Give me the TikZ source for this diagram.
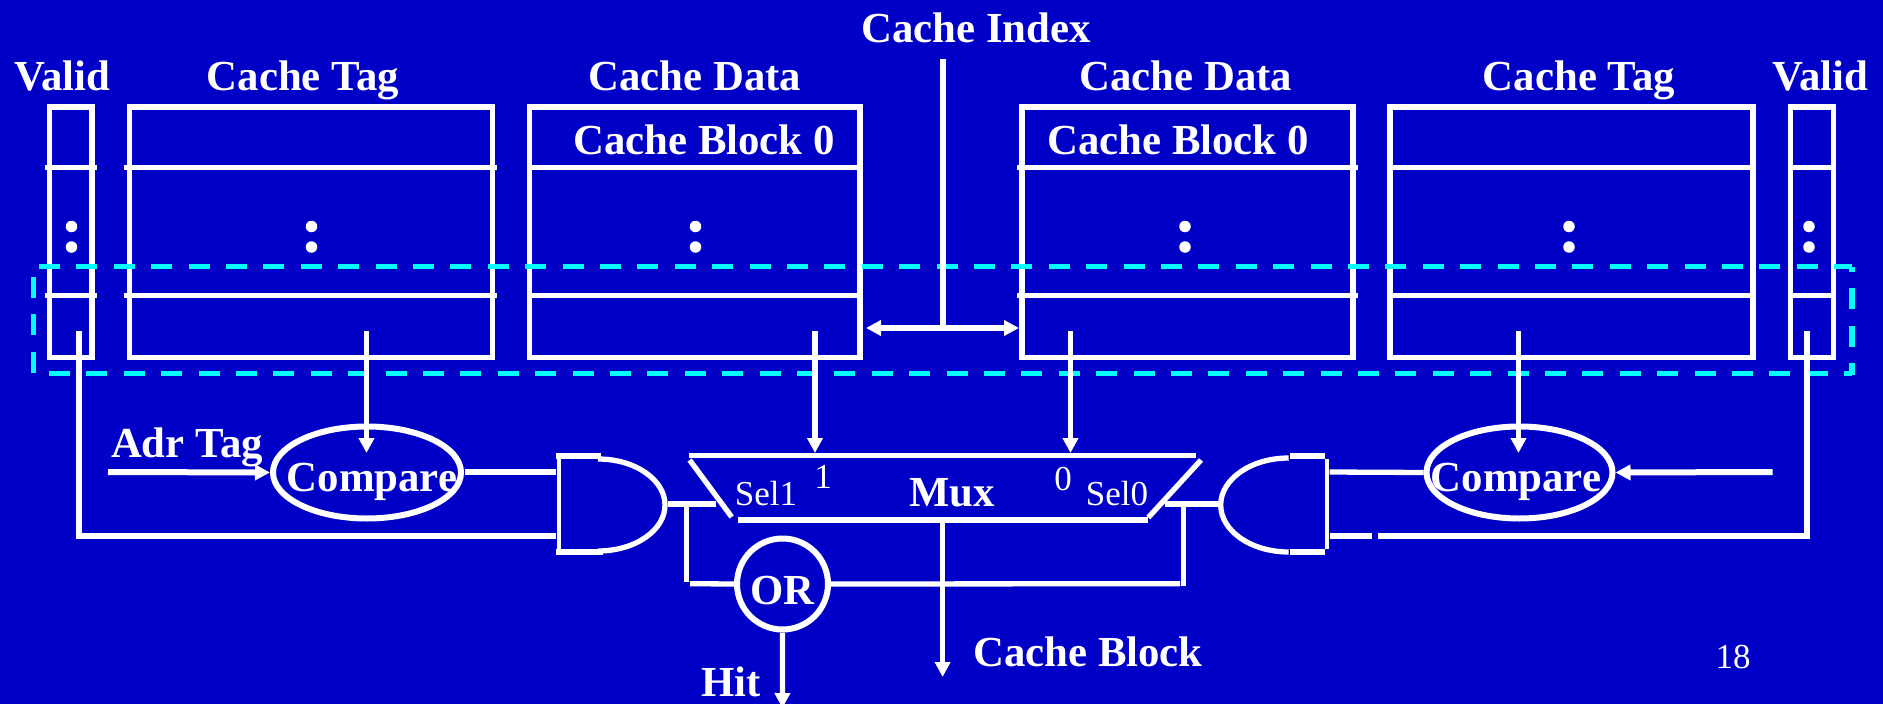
\documentclass[tikz,border=0pt]{standalone}
\usepackage{fontspec}
\setmainfont{Liberation Serif}
\usetikzlibrary{arrows.meta,shapes.geometric}
\definecolor{bgblue}{HTML}{0000C6}
\definecolor{dashcyan}{HTML}{00FFFF}
\tikzset{
  x=1pt,y=-1pt,
  wire/.style={draw=white,line width=5.3pt},
  thinwire/.style={draw=white,line width=4.6pt},
  tipped/.style={wire,-{Triangle[length=15pt,width=15pt]}},
  both/.style={wire,{Triangle[length=15pt,width=15pt]}-{Triangle[length=15pt,width=15pt]}},
  cell/.style={draw=white,line width=5.8pt},
  ring/.style={draw=white,line width=6pt,ellipse,inner sep=0pt},
  dashline/.style={draw=dashcyan,line width=5.3pt,dash pattern=on 21pt off 16.4pt},
  big/.style={text=white,font=\bfseries\fontsize{42.8}{43}\selectfont,inner sep=0pt,anchor=base},
  small/.style={text=white,font=\fontsize{35}{35}\selectfont,inner sep=0pt,anchor=base},
  dotmark/.style={circle,fill=white,inner sep=0pt,minimum size=11.5pt},
}
\begin{document}
\begin{tikzpicture}
\useasboundingbox (0,0) rectangle (1883,704);
\fill[bgblue] (0,0) rectangle (1883,704);
% labels
\node[big] (lidx) at (976,42) {Cache Index};
\node[big] (lv1) at (62,90) {Valid};
\node[big] (lt1) at (303,90) {Cache Tag};
\node[big] (ld1) at (695,90) {Cache Data};
\node[big] (ld2) at (1186,90) {Cache Data};
\node[big] (lt2) at (1579,90) {Cache Tag};
\node[big] (lv2) at (1820,90) {Valid};
\node[big] (lb1) at (704,154) {Cache Block 0};
\node[big] (lb2) at (1178,154) {Cache Block 0};
% boxes
\draw[cell] (49.5,107) rectangle (92,357.5);
\draw[cell] (129.5,107) rectangle (492.5,357.5);
\draw[cell] (529.5,107) rectangle (860,357.5);
\draw[cell] (1022,107) rectangle (1353,357.5);
\draw[cell] (1390,107) rectangle (1753,357.5);
\draw[cell] (1790.5,107) rectangle (1833.5,357.5);
% row lines
\foreach \yy in {167.7,295.7}{
  \draw[wire] (44.6,\yy) -- (97.3,\yy);
  \draw[wire] (124,\yy) -- (497,\yy);
  \draw[wire] (529.5,\yy) -- (860,\yy);
  \draw[wire] (1017,\yy) -- (1358,\yy);
  \draw[wire] (1390,\yy) -- (1753,\yy);
  \draw[wire] (1790.5,\yy) -- (1833.5,\yy);
}
% ellipsis dots
\foreach \xx in {71.5,311.5,695.5,1185,1569,1809}{
  \node[dotmark] at (\xx,226.5) {};
  \node[dotmark] at (\xx,247) {};
}
% dashed outline
\draw[dashline] (39,266.7) -- (1852,266.7);
\draw[dashline] (33.5,277) -- (33.5,375);
\draw[dashline] (49,373.3) -- (1852,373.3);
\draw[dashline,dash phase=9pt] (1852,375) -- (1852,267);
% shapes
\node[ring,minimum width=188pt,minimum height=92pt] (cmp1) at (367,472.5) {};
\node[ring,minimum width=186pt,minimum height=92pt] (cmp2) at (1519.5,472.5) {};
\node[big] (tcmp1) at (372,491) {Compare};
\node[big] (tcmp2) at (1516,491) {Compare};
\node[ring,minimum width=91pt,minimum height=91pt] (orgate) at (782.5,584) {};
\node[big] at (782.5,604) {OR};
% cache index
\coordinate (idxtop) at (943,59);
\coordinate (idxjoin) at (943,328);
\coordinate (dbl1) at (866,328);
\coordinate (dbl2) at (1019,328);
\draw[wire] (idxtop) -- (idxjoin);
\draw[both] (dbl1) -- (dbl2);
% taps
\coordinate (v1a) at (79,331);
\coordinate (v1b) at (79,536);
\coordinate (and1b) at (556,536);
\draw[wire] (v1a) -- (v1b) -- (and1b);
\coordinate (t1) at (366.5,331);
\coordinate (t1e) at (366.5,453);
\draw[tipped] (t1) -- (t1e);
\coordinate (d1) at (815,331);
\coordinate (d1e) at (815,453);
\draw[tipped] (d1) -- (d1e);
\coordinate (d2) at (1070.5,331);
\coordinate (d2e) at (1070.5,453);
\draw[tipped] (d2) -- (d2e);
\coordinate (t2) at (1518.5,331);
\coordinate (t2e) at (1518.5,453);
\draw[tipped] (t2) -- (t2e);
% inputs
\coordinate (adr) at (108,472);
\draw[tipped,line width=6pt] (adr) -- (cmp1.west);
\coordinate (inr) at (1772.7,472);
\draw[tipped,line width=6pt] (inr) -- (cmp2.east);
% and gates
\coordinate (and1a) at (556,472);
\draw[wire] (464.6,472) -- (and1a);
\draw[thinwire] (559,453) -- (559,554);
\draw[wire] (556,456) -- (601,456);
\draw[wire] (556,552) -- (603,552);
\draw[wire] (598,459) arc[start angle=-90,end angle=90,x radius=67,y radius=46];
\draw[wire] (668,504) -- (715.6,504);
\draw[thinwire] (686.5,504) -- (686.5,582);
\draw[wire] (690,583.7) -- (orgate.west);
\draw[wire] (orgate.east) -- (1180,583.7);
\draw[thinwire] (1183.4,506.7) -- (1183.4,586);
\draw[thinwire] (1327,459) -- (1327,549);
\draw[wire] (1290,456) -- (1324.5,456);
\draw[wire] (1290,552) -- (1324.5,552);
\draw[wire] (1288.7,458) arc[start angle=-90,end angle=-270,x radius=68,y radius=47];
\draw[wire] (1164.6,504) -- (1220,504);
\draw[wire] (1329.5,472) -- (cmp2.west);
\draw[wire] (1329.5,536) -- (1371.5,536);
\coordinate (v2c) at (1377.7,536);
\coordinate (v2b) at (1807,536);
\coordinate (v2a) at (1807,331);
\draw[wire] (v2c) -- (v2b) -- (v2a);
% mux
\draw[wire] (689,455.7) -- (1196,455.7);
\draw[wire] (737.5,520) -- (1148,520);
\draw[wire] (689.6,460) -- (731.7,517);
\draw[wire] (1201,460) -- (1148.3,517.5);
\coordinate (muxo) at (942.6,520);
\coordinate (muxe) at (942.6,677);
\draw[tipped] (muxo) -- (muxe);
\coordinate (hite) at (782.4,708);
\draw[tipped] (orgate.south) -- (hite);
% text
\node[big] (ladr) at (187,457) {Adr Tag};
\node[big] (lmux) at (952,506) {Mux};
\node[small] (ls1) at (766,505.5) {Sel1};
\node[small] (ls0) at (1117,505.5) {Sel0};
\node[small] (l1) at (823,488) {1};
\node[small] (l0) at (1063,490) {0};
\node[big] (lhit) at (731,696) {Hit};
\node[big] (lcb) at (1088,666) {Cache Block};
\node[small] (lpg) at (1733,668) {18};
\end{tikzpicture}
\end{document}
